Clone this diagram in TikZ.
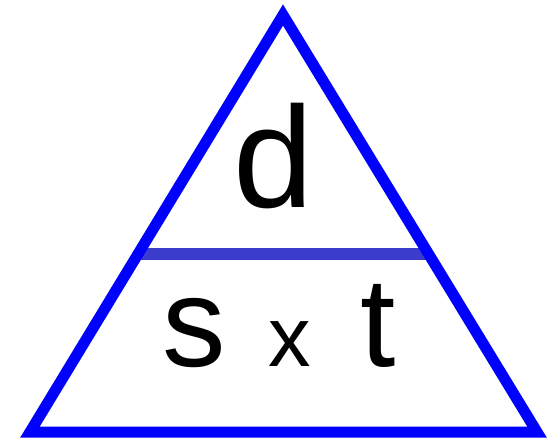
\documentclass[tikz,border=0pt]{standalone}
\usepackage{fontspec}
\setmainfont{Liberation Sans}
\definecolor{triblue}{HTML}{0000FF}
\definecolor{barblue}{HTML}{3C3CCC}
\begin{document}
\begin{tikzpicture}[x=1pt,y=-1pt,
  edge/.style={draw=triblue,line width=11pt,line join=miter},
  bar/.style={draw=barblue,line width=12pt},
  lbl/.style={inner sep=0pt,anchor=base}]
\useasboundingbox (0,0) rectangle (551,439);
\coordinate (top) at (283,15);
\coordinate (br) at (537,432);
\coordinate (bl) at (30,432);
\coordinate (barl) at (140,254);
\coordinate (barr) at (426,254);
\draw[bar] (barl) -- (barr);
\draw[edge] (top) -- (br) -- (bl) -- cycle;
\node[lbl] (d) at (274,207) {\fontsize{144}{144}\selectfont d};
\node[lbl] (s) at (194.5,366) {\fontsize{127}{127}\selectfont s};
\node[lbl] (x) at (290,366) {\fontsize{85}{85}\selectfont x};
\node[lbl] (t) at (378.5,366) {\fontsize{127}{127}\selectfont t};
\end{tikzpicture}
\end{document}
